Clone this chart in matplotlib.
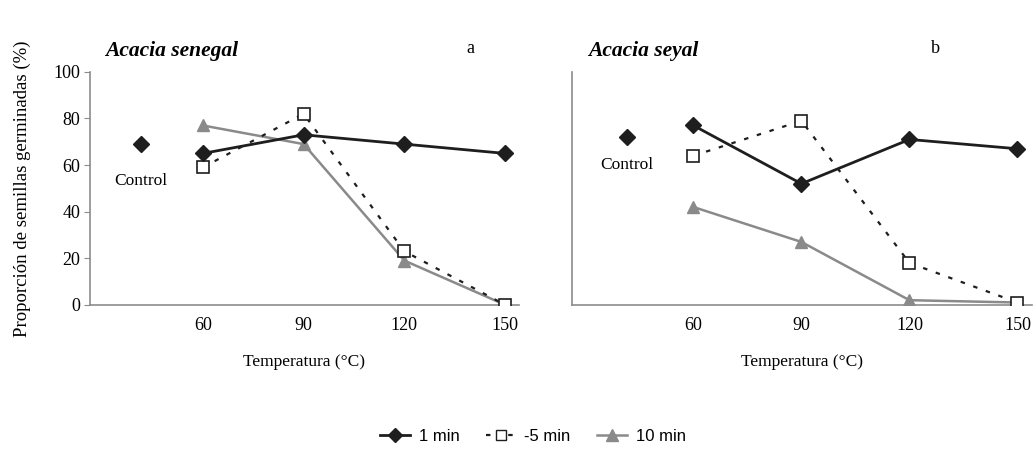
import matplotlib
matplotlib.use("Agg")
import matplotlib.pyplot as plt
from matplotlib.lines import Line2D

# data
temps = [60, 90, 120, 150]
temp_labels = ["60", "90", "120", "150"]

senegal_control = 69
senegal_1min = [65, 73, 69, 65]
senegal_5min = [59, 82, 23, 0]
senegal_10min = [77, 69, 19, 0]

seyal_control = 72
seyal_1min = [77, 52, 71, 67]
seyal_5min = [64, 79, 18, 1]
seyal_10min = [42, 27, 2, 1]

serif = "Liberation Serif"
sans = "Liberation Sans"
axis_col = "#8c8c8c"
dark = "#1e1e1e"
grey = "#8a8a8a"
control_x = 41.5

fig = plt.figure(figsize=(10.35, 4.55), dpi=100)
ax1 = fig.add_axes([0.087, 0.330, 0.414, 0.512])
ax2 = fig.add_axes([0.553, 0.330, 0.444, 0.512])


def draw(ax, control, one, five, ten, title, letter, letter_x, ctrl_off, show_y):
    ax.plot(temps, one, color=dark, lw=2, marker="D", ms=8, zorder=4)
    ax.plot(control_x, control, color=dark, marker="D", ms=8, ls="none", zorder=4)
    ax.plot(temps, five, color=dark, lw=1.6, ls=(0, (2, 4)), marker="s", ms=8,
            mfc="white", mec=dark, mew=1.2, zorder=3)
    ax.plot(temps, ten, color=grey, lw=1.8, marker="^", ms=9, zorder=2)

    ax.set_xlim(26.4, 154)
    ax.set_ylim(0, 100)
    ax.set_xticks(temps)
    ax.set_xticklabels(temp_labels, family=serif, fontsize=13)
    ax.tick_params(axis="x", length=0, pad=9)
    for s in ["top", "right"]:
        ax.spines[s].set_visible(False)
    for s in ["left", "bottom"]:
        ax.spines[s].set_color(axis_col)
        ax.spines[s].set_linewidth(1.2)
    if show_y:
        ax.set_yticks([0, 20, 40, 60, 80, 100])
        ax.set_yticklabels(["0", "20", "40", "60", "80", "100"], family=serif, fontsize=13)
        ax.tick_params(axis="y", length=4, color=axis_col, pad=3)
        ax.set_ylabel("Proporción de semillas germinadas (%)", family=serif,
                      fontsize=13.5, labelpad=16)
    else:
        ax.set_yticks([])
    ax.set_xlabel("Temperatura (°C)", family=serif, fontsize=12.5, labelpad=14)
    ax.text(control_x, control - ctrl_off, "Control", family=serif, fontsize=12.5,
            ha="center", va="center")
    ax.text(0.035, 1.09, title, transform=ax.transAxes, family=serif,
            fontsize=15.5, fontweight="bold", style="italic", ha="left", va="center")
    ax.text(letter_x, 1.1, letter, transform=ax.transAxes, family=serif,
            fontsize=13, ha="center", va="center")


draw(ax1, senegal_control, senegal_1min, senegal_5min, senegal_10min,
     "Acacia senegal", "a", 0.888, 16, True)
draw(ax2, seyal_control, seyal_1min, seyal_5min, seyal_10min,
     "Acacia seyal", "b", 0.79, 12, False)

handles = [
    Line2D([], [], color=dark, lw=2, marker="D", ms=7),
    Line2D([], [], color=dark, lw=1.6, ls=(0, (2, 3)), marker="s", ms=7,
           mfc="white", mec=dark),
    Line2D([], [], color=grey, lw=1.8, marker="^", ms=8),
]
fig.legend(handles, ["1 min", "-5 min", "10 min"], loc="center",
           bbox_to_anchor=(0.515, 0.04), ncol=3, frameon=False,
           prop={"family": sans, "size": 12}, handlelength=1.8,
           columnspacing=1.6, handletextpad=0.5)

fig.savefig("out.png", dpi=100)
